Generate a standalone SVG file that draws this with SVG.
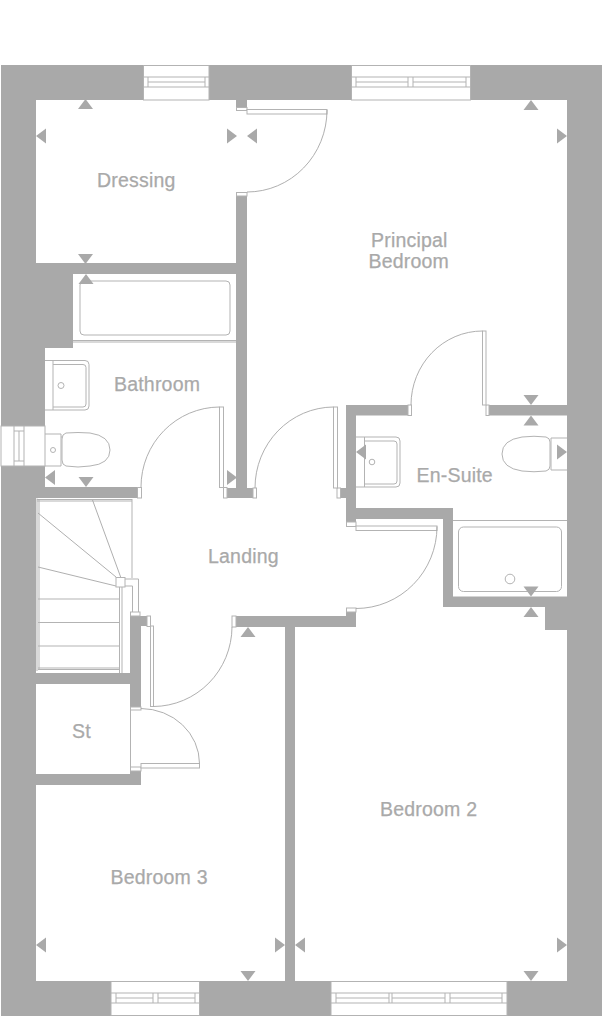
<svg xmlns="http://www.w3.org/2000/svg" width="602" height="1016" viewBox="0 0 602 1016">
<style>
.w{fill:#a9a9a9}
.l{fill:none;stroke:#b3b3b3;stroke-width:1}
.a{fill:none;stroke:#a6a6a6;stroke-width:.9}
.f{fill:#fff;stroke:#b3b3b3;stroke-width:1}
.t{fill:#a9a9a9;stroke:#a9a9a9;stroke-width:.25px;font-family:"Liberation Sans",Arial,sans-serif;font-size:19.500px;letter-spacing:.2px}
</style>
<defs>
<path id="up" class="w" d="M0 0L7.500 10H-7.500Z"/>
<path id="dn" class="w" d="M0 0L7.500 -10H-7.500Z"/>
<path id="lt" class="w" d="M0 0L10 -7.500V7.500Z"/>
<path id="rt" class="w" d="M0 0L-10 -7.500V7.500Z"/>
</defs>
<rect width="602" height="1016" fill="#fff"/>
<g id="walls">
<rect class="w" x="1" y="65" width="601" height="951"/>
<path fill="#fff" d="M36 100H567V981H36V498H45V348H73V263H36Z"/>
<rect class="w" x="36" y="263" width="211" height="11"/>
<rect class="w" x="236" y="100" width="11" height="8"/>
<rect class="w" x="236" y="193" width="11" height="304"/>
<rect class="w" x="227" y="488" width="26" height="10"/>
<rect class="w" x="36" y="487" width="101" height="11"/>
<rect class="w" x="340" y="488" width="6" height="10"/>
<rect class="w" x="346" y="405" width="10" height="117"/>
<rect class="w" x="346" y="405" width="62" height="10.500"/>
<rect class="w" x="489" y="405" width="78" height="10.500"/>
<rect class="w" x="356" y="508" width="97" height="11"/>
<rect class="w" x="443" y="508" width="10" height="99"/>
<rect class="w" x="443" y="596.500" width="124" height="10.500"/>
<rect class="w" x="545" y="607" width="22" height="23"/>
<rect class="w" x="236" y="616" width="120" height="11"/>
<rect class="w" x="346" y="612" width="10" height="15"/>
<rect class="w" x="285" y="627" width="10" height="354"/>
<rect class="w" x="130" y="616" width="11" height="91"/>
<rect class="w" x="141" y="616" width="6" height="10"/>
<rect class="w" x="36" y="673" width="104" height="11"/>
<rect class="w" x="36" y="774" width="105" height="11"/>
<rect class="w" x="130" y="771" width="11" height="14"/>
</g>
<g id="windows">
<rect class="f" x="143.500" y="65.500" width="65.500" height="34.500"/>
<path class="l" d="M143.500 77H209M143.500 87H209M148 82H205M148 77V87M205 77V87"/>
<rect class="f" x="351.500" y="65.500" width="119" height="34.500"/>
<path class="l" d="M351.500 77H470.500M351.500 87H470.500M356 82H408M413 82H466M356 77V87M408 77V87M413 77V87M466 77V87"/>
<rect class="f" x="1" y="426" width="44" height="40"/>
<path class="l" d="M14 426V466M24 426V466M19 431V461M14 431H24M14 461H24"/>
<rect class="f" x="111" y="981.500" width="88.500" height="34"/>
<path class="l" d="M111 993H199.500M111 1003H199.500M116 998H153M158 998H195M116 993V1003M153 993V1003M158 993V1003M195 993V1003"/>
<rect class="f" x="331" y="981.500" width="176" height="34"/>
<path class="l" d="M331 993H507M331 1003H507M336 998H389M392 998H445M450 998H502M336 993V1003M389 993V1003M392 993V1003M445 993V1003M450 993V1003M502 993V1003"/>
</g>
<g id="doors">
<rect class="f" x="236.500" y="107.500" width="10.500" height="3"/>
<rect class="f" x="247" y="109.500" width="80" height="4.500"/>
<rect class="f" x="236.500" y="192.500" width="10.500" height="3.500"/>
<path class="a" d="M327 110A80 82 0 0 1 247 192"/>
<rect class="f" x="137.500" y="487.500" width="4" height="10.500"/>
<rect class="f" x="223.500" y="487.500" width="3.500" height="10.500"/>
<rect class="f" x="219.500" y="407" width="4" height="80.500"/>
<path class="a" d="M219.500 407A79 80 0 0 0 141 487"/>
<rect class="f" x="253" y="488" width="3.500" height="10"/>
<rect class="f" x="337" y="488" width="3.500" height="10"/>
<rect class="f" x="333.500" y="407" width="4" height="81"/>
<path class="a" d="M333.500 407A79 81 0 0 0 255 488"/>
<rect class="f" x="408" y="405" width="3.500" height="10.500"/>
<rect class="f" x="486" y="405" width="3" height="10.500"/>
<rect class="f" x="482.500" y="331" width="3.500" height="74"/>
<path class="a" d="M482.500 331A71.500 74 0 0 0 411 405"/>
<rect class="f" x="346.500" y="522" width="9.500" height="4.500"/>
<rect class="f" x="356" y="526" width="81" height="4.500"/>
<rect class="f" x="346.500" y="608" width="9.500" height="4"/>
<path class="a" d="M437 526.500A81 82 0 0 1 356 608.500"/>
<rect class="f" x="232" y="616" width="4" height="11"/>
<rect class="f" x="147" y="616" width="3.500" height="10.500"/>
<rect class="f" x="150.500" y="626" width="3" height="80.500"/>
<path class="a" d="M153.500 706.500A79 80 0 0 0 232 627"/>
<rect class="f" x="130.500" y="707" width="10.500" height="3"/>
<path class="l" d="M130.500 707V767"/>
<rect class="f" x="130.500" y="767" width="10.500" height="4"/>
<rect class="f" x="141" y="763.500" width="58.500" height="4.500"/>
<path class="a" d="M199.500 763.500A59 55 0 0 0 141 708.500"/>
</g>
<g id="stairs">
<path class="l" d="M37 498.500V671M39 499V670M37 499.500H132M37 501H132M132 499V578M38 599H120M38 622.500H120M38 646H120M38 668H120M38 669.500H120M119.500 587V673M122 587V673"/>
<path class="a" d="M121 578L92.500 500M116 577L38 513M116 586L38 567"/>
<rect class="f" x="116" y="577.500" width="9" height="9.500"/>
<path class="l" d="M125 579H138.500V612M125 586H132.500V612"/>
<rect class="f" x="130.500" y="612" width="9.500" height="4"/>
</g>
<g id="fixtures">
<path class="l" d="M73 342H236M73 340.500H236"/>
<rect class="l" x="80" y="281" width="150" height="54" rx="4"/>
<path class="l" d="M45 360.500H85Q89 360.500 89 364.500V406Q89 410 85 410H45M53 360.500V410M53 364.500H83Q86 364.500 86 367.500V404Q86 407 83 407H53"/>
<circle class="l" cx="61" cy="385.500" r="3"/>
<path class="l" d="M45 434H61V466H45M61 437H62M66 433Q78 432 90 433Q110 436 110 450Q110 464 90 466Q78 468 66 466Q62 465 62 460V439Q62 434 66 433Z"/>
<circle class="l" cx="53" cy="450" r="2.500"/>
<path class="l" d="M356 437H396Q400 437 400 441V483Q400 487 396 487H356M364.500 437V487M364.500 441H394Q397 441 397 444V481Q397 484 394 484H364.500"/>
<circle class="l" cx="372" cy="462" r="2.800"/>
<path class="l" d="M567 438H551V470H567M546 437Q534 435.500 522 437Q502 440 502 454Q502 468 522 471Q534 472.500 546 471Q550 470 550 466V442Q550 438 546 437Z"/>
<path class="l" d="M453 520.500H567"/>
<rect class="l" x="458.500" y="527" width="103" height="64.500" rx="5"/>
<circle class="l" cx="510" cy="579" r="4.800"/>
</g>
<g id="arrows">
<use href="#up" x="85.500" y="99"/>
<use href="#lt" x="36" y="136"/>
<use href="#rt" x="237" y="136"/>
<use href="#lt" x="247" y="136"/>
<use href="#dn" x="85.500" y="264"/>
<use href="#up" x="86" y="274"/>
<use href="#lt" x="45" y="477.500"/>
<use href="#dn" x="86" y="487"/>
<use href="#rt" x="237" y="477.500"/>
<use href="#up" x="531" y="100"/>
<use href="#rt" x="567" y="136"/>
<use href="#dn" x="531" y="405"/>
<use href="#up" x="531" y="415.500"/>
<use href="#lt" x="356" y="452"/>
<use href="#rt" x="567" y="452"/>
<use href="#dn" x="531" y="596.500"/>
<use href="#up" x="531" y="607"/>
<use href="#up" x="248" y="627"/>
<use href="#lt" x="36" y="945"/>
<use href="#rt" x="285" y="945"/>
<use href="#dn" x="248" y="981"/>
<use href="#lt" x="295" y="945"/>
<use href="#rt" x="567" y="945"/>
<use href="#dn" x="531" y="981"/>
</g>
<g id="labels">
<text class="t" x="97" y="186.500">Dressing</text>
<text class="t" x="371" y="246.500">Principal</text>
<text class="t" x="368.500" y="267.500">Bedroom</text>
<text class="t" x="114" y="391">Bathroom</text>
<text class="t" x="416.500" y="482">En-Suite</text>
<text class="t" x="208" y="562.500">Landing</text>
<text class="t" x="72" y="738">St</text>
<text class="t" x="380" y="815.500">Bedroom 2</text>
<text class="t" x="110.500" y="883.500">Bedroom 3</text>
</g>
</svg>
